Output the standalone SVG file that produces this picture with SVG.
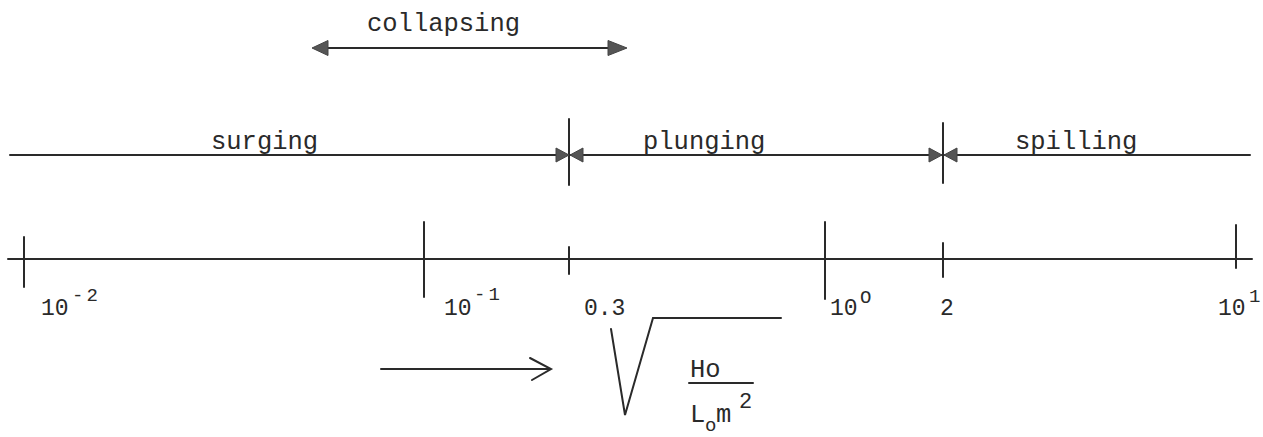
<svg xmlns="http://www.w3.org/2000/svg" width="1263" height="437" viewBox="0 0 1263 437">
<style>
.ln{stroke:#2a2a2a;stroke-width:2;fill:none;stroke-linecap:round}
.tw{font-family:"Liberation Mono","DejaVu Sans Mono",monospace;font-size:25.5px;fill:#2a2a2a}
.nm{font-family:"Liberation Mono","DejaVu Sans Mono",monospace;font-size:23px;fill:#2a2a2a}
.sup{font-family:"Liberation Mono","DejaVu Sans Mono",monospace;font-size:19px;letter-spacing:3px;fill:#2a2a2a}
.head{fill:#555;stroke:#444;stroke-width:1}
</style>
<rect width="1263" height="437" fill="#ffffff"/>
<g id="connectors">
  <line class="ln" x1="10" y1="155" x2="1250" y2="155"/>
  <line class="ln" x1="569" y1="119" x2="569" y2="185"/>
  <line class="ln" x1="943" y1="123" x2="943" y2="183"/>
  <path class="head" d="M556,148 L569,155 L556,162 Z"/>
  <path class="head" d="M583,148 L570,155 L583,162 Z"/>
  <path class="head" d="M929,148 L942,155 L929,162 Z"/>
  <path class="head" d="M957,148 L944,155 L957,162 Z"/>
  <line class="ln" x1="326" y1="48" x2="610" y2="48"/>
  <path class="head" d="M328,40.5 L312,48 L328,55.5 Z"/>
  <path class="head" d="M608,40.5 L627,48 L608,55.5 Z"/>
  <line class="ln" x1="8" y1="259" x2="1252" y2="259"/>
  <line class="ln" x1="381" y1="369" x2="550" y2="369"/>
  <polyline class="ln" points="530,358 551,369 532,380"/>
</g>
<g id="collapsing"><text class="tw" x="367" y="31">collapsing</text></g>
<g id="surging"><text class="tw" x="211" y="149">surging</text></g>
<g id="plunging"><text class="tw" x="643" y="149">plunging</text></g>
<g id="spilling"><text class="tw" x="1015" y="149">spilling</text></g>
<g id="tick-1e-2">
  <line class="ln" x1="24" y1="237" x2="24" y2="287"/>
  <text class="nm" x="41" y="315">10</text><text class="sup" x="72" y="301">-2</text>
</g>
<g id="tick-1e-1">
  <line class="ln" x1="424" y1="222" x2="424" y2="297"/>
  <text class="nm" x="444" y="315">10</text><text class="sup" x="474" y="300">-1</text>
</g>
<g id="tick-0.3">
  <line class="ln" x1="569" y1="247" x2="569" y2="274"/>
  <text class="nm" x="584" y="315">0.3</text>
</g>
<g id="tick-1e0">
  <line class="ln" x1="825" y1="222" x2="825" y2="299"/>
  <text class="nm" x="830" y="315">10</text><text class="sup" x="860" y="303">O</text>
</g>
<g id="tick-2">
  <line class="ln" x1="943" y1="243" x2="943" y2="277"/>
  <text class="nm" x="940" y="315">2</text>
</g>
<g id="tick-1e1">
  <line class="ln" x1="1236" y1="225" x2="1236" y2="268"/>
  <text class="nm" x="1218" y="315">10</text><text class="sup" x="1249" y="302">1</text>
</g>
<g id="formula">
  <polyline class="ln" points="611,329 625,415 653,318 781,318"/>
  <text class="tw" x="690" y="377">Ho</text>
  <line class="ln" x1="689" y1="383" x2="753" y2="383"/>
  <text class="tw" x="690" y="422">L</text>
  <text class="tw" x="705" y="431" style="font-size:19px">o</text>
  <text class="tw" x="716" y="422">m</text>
  <text class="tw" x="739" y="408" style="font-size:22px">2</text>
</g>
</svg>
